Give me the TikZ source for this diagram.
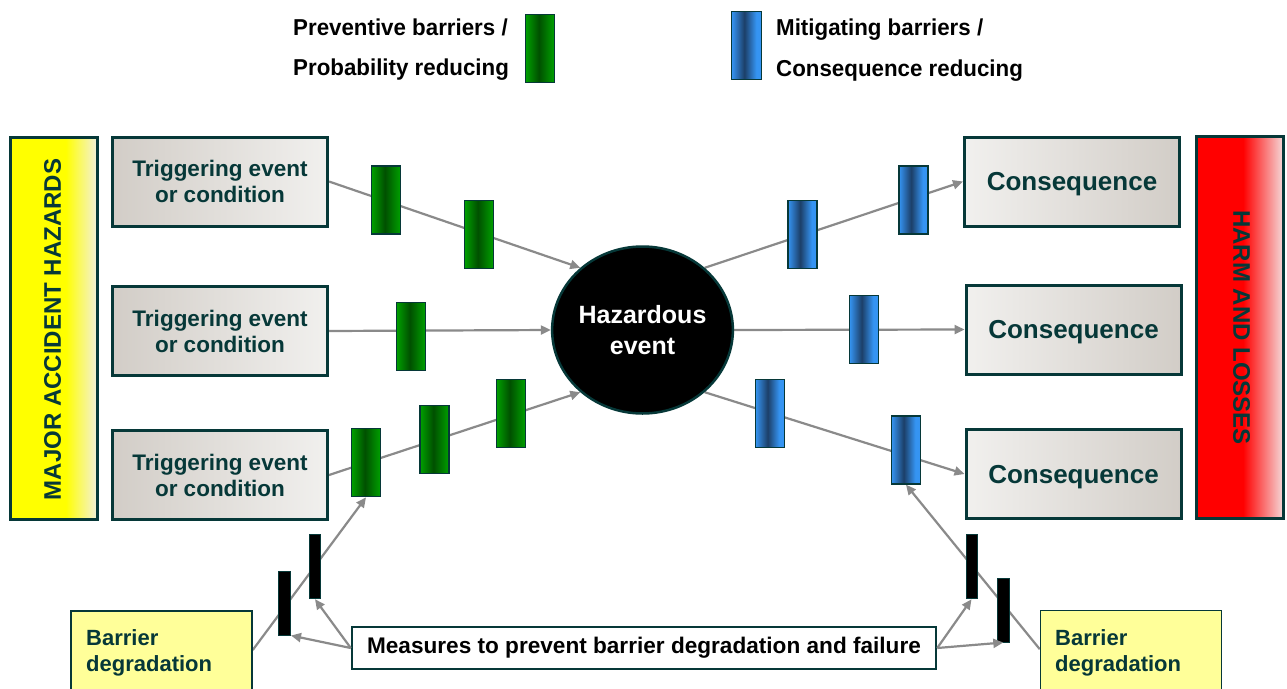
\documentclass[tikz,border=0pt]{standalone}
\usepackage{fontspec}
\setmainfont{Liberation Sans}
\newfontfamily\legendfont[FakeStretch=0.97]{Liberation Sans}
\usetikzlibrary{arrows.meta,shapes.geometric}

\definecolor{darkteal}{HTML}{063838}
\definecolor{flowgray}{HTML}{8A8A8A}
\definecolor{boxdark}{HTML}{D2CDC7}
\definecolor{boxlight}{HTML}{F1F0EE}
\definecolor{ycream}{HTML}{F3F0DA}
\definecolor{rpink}{HTML}{F5D8D8}
\definecolor{gedge}{HTML}{00A000}
\definecolor{gcore}{HTML}{005000}
\definecolor{bedge}{HTML}{3594F2}
\definecolor{bcore}{HTML}{1C3F68}
\definecolor{degfill}{HTML}{FFFF99}

% side bars and barrier bars: colour varies from left to right
\pgfdeclarehorizontalshading{yellowbar}{100bp}{color(0bp)=(yellow); color(25bp)=(yellow); color(57bp)=(yellow); color(75bp)=(ycream); color(100bp)=(ycream)}
\pgfdeclarehorizontalshading{redbar}{100bp}{color(0bp)=(red); color(25bp)=(red); color(52bp)=(red); color(75bp)=(rpink); color(100bp)=(rpink)}
\pgfdeclarehorizontalshading{greenbar}{100bp}{color(0bp)=(gedge); color(25bp)=(gedge); color(48bp)=(gcore); color(75bp)=(gedge); color(100bp)=(gedge)}
\pgfdeclarehorizontalshading{bluebar}{100bp}{color(0bp)=(bedge); color(25bp)=(bedge); color(46bp)=(bcore); color(66bp)=(bedge); color(100bp)=(bedge)}

\pgfdeclarelayer{bgfill}
\pgfdeclarelayer{lines}
\pgfsetlayers{bgfill,lines,main}

\tikzset{
  sidebar/.style={draw=darkteal, line width=3pt, minimum width=87pt, minimum height=382pt, inner sep=0pt},
  sidetext/.style={text=darkteal, font=\bfseries\fontsize{24}{28}\selectfont, inner sep=0pt},
  eventbox/.style={draw=darkteal, line width=3pt, minimum width=215pt, minimum height=89pt, inner sep=0pt, text=darkteal, align=center},
  trigbox/.style={eventbox, left color=boxdark, right color=boxlight, font=\bfseries\fontsize{22.5}{26}\selectfont},
  consbox/.style={eventbox, left color=boxlight, right color=boxdark, text depth=0pt, font=\bfseries\fontsize{26}{30}\selectfont},
  barrier/.style={draw=darkteal, line width=1.3pt, minimum width=29pt, minimum height=68pt, inner sep=0pt},
  prevbar/.style={barrier, shade, shading=greenbar},
  mitbar/.style={barrier, shade, shading=bluebar},
  blackbar/.style={draw=darkteal, line width=1pt, fill=black, minimum width=11pt, minimum height=64pt, inner sep=0pt},
  flow/.style={draw=flowgray, line width=2.2pt, -{Triangle[length=10pt,width=9pt]}},
  degbox/.style={draw=darkteal, line width=1.5pt, fill=degfill, minimum width=181pt, minimum height=90pt, inner sep=0pt},
  degtext/.style={text=darkteal, font=\bfseries\fontsize{22}{26.7}\selectfont, align=left, inner sep=0pt, anchor=west},
  legtext/.style={font=\legendfont\bfseries\fontsize{23}{27}\selectfont, inner sep=0pt, anchor=base west},
  measbox/.style={draw=darkteal, line width=2.5pt, fill=white, minimum width=584pt, minimum height=42pt, inner sep=0pt, font=\bfseries\fontsize{22.6}{26}\selectfont},
}

\begin{document}
\begin{tikzpicture}[x=1pt,y=-1pt]
\useasboundingbox (0,0) rectangle (1287,688);

% legend
\node[prevbar] (legp) at (540,48.3) {};
\node[mitbar, minimum width=30pt] (legm) at (746.7,45.8) {};
\node[legtext] (legp1) at (293,35.5) {Preventive barriers /};
\node[legtext] (legp2) at (293,75) {Probability reducing};
\node[legtext] (legm1) at (776,35) {Mitigating barriers /};
\node[legtext] (legm2) at (776,76) {Consequence reducing};

% side bars
\node[sidebar, shade, shading=yellowbar] (mah) at (53.5,328) {};
\node[sidetext, rotate=90] (maht) at (52.5,329.5) {MAJOR ACCIDENT HAZARDS};
\node[sidebar, shade, shading=redbar] (hal) at (1239.5,327.5) {};
\node[sidetext, rotate=-90] (halt) at (1241.5,327.5) {HARM AND LOSSES};

% triggering events
\node[trigbox] (t1) at (220,181.5) {Triggering event\\or condition};
\node[trigbox] (t2) at (220,331) {Triggering event\\or condition};
\node[trigbox] (t3) at (220,475) {Triggering event\\or condition};

% consequences
\node[consbox] (c1) at (1072,181.5) {Consequence};
\node[consbox] (c2) at (1073.5,329.5) {Consequence};
\node[consbox] (c3) at (1073.5,474) {Consequence};

% top event
\node[ellipse, fill=black, draw=darkteal, line width=2.5pt, minimum width=175pt, minimum height=167pt,
      inner sep=0pt, text=white, align=center, font=\bfseries\fontsize{25}{31}\selectfont]
      (he) at (642.5,330) {Hazardous\\event};

% preventive barriers
\node[prevbar] (g11) at (386,200) {};
\node[prevbar] (g12) at (479,234.7) {};
\node[prevbar] (g21) at (411,336.5) {};
\node[prevbar] (g31) at (366,462.7) {};
\node[prevbar] (g32) at (434.5,439.3) {};
\node[prevbar] (g33) at (511,413.3) {};

% mitigating barriers
\node[mitbar] (b11) at (802.5,234.7) {};
\node[mitbar] (b12) at (913.5,200) {};
\node[mitbar] (b21) at (864,329.3) {};
\node[mitbar] (b31) at (770,413.3) {};
\node[mitbar] (b32) at (906,450) {};

% degradation barriers
\node[blackbar, minimum width=12pt] (k1) at (284.5,603) {};
\node[blackbar] (k2) at (315,566.7) {};
\node[blackbar] (k3) at (971.5,566.8) {};
\node[blackbar, minimum width=12pt] (k4) at (1003.3,610) {};

% barrier degradation boxes
\node[degbox] (bd1) at (161.5,656) {};
\node[degtext] (bd1t) at (86,652.8) {Barrier\\degradation};
\node[degbox] (bd2) at (1131,655.7) {};
\node[degtext] (bd2t) at (1055,652.8) {Barrier\\degradation};

% measures
\node[measbox] (meas) at (644,648) {Measures to prevent barrier degradation and failure};

\draw[flow] (meas.west) -- (k1.south east);
\draw[flow] (meas.west) -- (k2.south);
\draw[flow] (meas.east) -- (k3.south);
\draw[flow] (meas.east) -- (k4.south);

\begin{pgfonlayer}{bgfill}
  \fill[white] (0,0) rectangle (1287,688);
\end{pgfonlayer}

\begin{pgfonlayer}{lines}
  \draw[flow] (t1.east) -- (he.135);
  \draw[flow] (t2.east) -- (he.west);
  \draw[flow] (t3.east) -- (he.225);
  \draw[flow] (he.45) -- (c1.west);
  \draw[flow] (he.east) -- (c2.west);
  \draw[flow] (he.-45) -- (c3.west);
  \draw[flow] ([yshift=6pt]bd1.east) -- (g31.south);
  \draw[flow] ([yshift=6.5pt]bd2.west) -- (b32.south);
\end{pgfonlayer}
\end{tikzpicture}
\end{document}
